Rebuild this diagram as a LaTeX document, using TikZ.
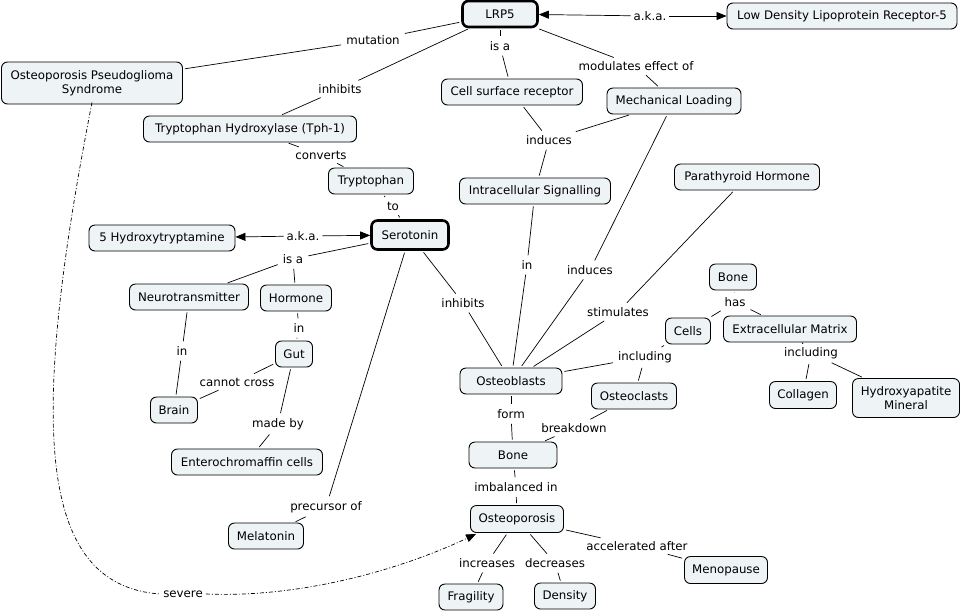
\documentclass[tikz,border=0pt]{standalone}
\usepackage{fontspec}
\setmainfont{DejaVu Sans}
\usetikzlibrary{arrows.meta}
\definecolor{nodefill}{HTML}{EEF3F5}
\tikzset{
  cbox/.style={draw=black, fill=nodefill, rounded corners=6pt, line width=0.9pt,
    minimum height=26pt, inner xsep=3pt, inner ysep=2pt, font=\fontsize{11.8}{14.5}\selectfont, align=center},
  thickbox/.style={cbox, line width=2.6pt},
  lab/.style={inner sep=3pt, font=\fontsize{11.8}{14.5}\selectfont},
  link/.style={draw=black, line width=0.7pt, shorten >=2pt, shorten <=2pt},
  arr/.style={draw=black, line width=0.7pt, -{Triangle[length=10pt,width=8pt]}},
  sev/.style={draw=black, line width=0.7pt, dash pattern=on 4pt off 2pt on 1pt off 2pt}
}
\begin{document}
\begin{tikzpicture}[x=1pt,y=-1pt]
\useasboundingbox[fill=white] (0,0) rectangle (963,614);
% concepts
\node[thickbox, minimum width=75pt] (lrp) at (500,14) {LRP5};
\node[cbox, minimum width=230pt] (ldl) at (842,16) {Low Density Lipoprotein Receptor-5};
\node[cbox, minimum width=181pt, minimum height=42pt] (ops) at (92,83) {Osteoporosis Pseudoglioma\\Syndrome};
\node[cbox, minimum width=141pt] (csr) at (512,92) {Cell surface receptor};
\node[cbox, minimum width=134pt] (mech) at (674,101) {Mechanical Loading};
\node[cbox, minimum width=213pt] (tph) at (250,129) {Tryptophan Hydroxylase (Tph-1)};
\node[cbox, minimum width=85pt] (tryp) at (371,181) {Tryptophan};
\node[cbox, minimum width=151pt] (ics) at (535,191) {Intracellular Signalling};
\node[cbox, minimum width=145pt] (pth) at (747,177) {Parathyroid Hormone};
\node[thickbox, minimum width=77pt, minimum height=29pt] (ser) at (410,235) {Serotonin};
\node[cbox, minimum width=146pt] (hyt) at (162,238) {5 Hydroxytryptamine};
\node[cbox, minimum width=119pt] (neuro) at (189,297) {Neurotransmitter};
\node[cbox, minimum width=71pt] (horm) at (296,298) {Hormone};
\node[cbox, minimum width=37pt] (gut) at (294,354) {Gut};
\node[cbox, minimum width=47pt] (brain) at (174,410) {Brain};
\node[cbox, minimum width=151pt] (entero) at (247,462) {Enterochromaffin cells};
\node[cbox, minimum width=75pt] (mela) at (266,536) {Melatonin};
\node[cbox, minimum width=102pt] (obl) at (511,381) {Osteoblasts};
\node[cbox, minimum width=47pt] (bonetop) at (733,277) {Bone};
\node[cbox, minimum width=45pt] (cells) at (688,331) {Cells};
\node[cbox, minimum width=133pt] (ecm) at (790,329) {Extracellular Matrix};
\node[cbox, minimum width=85pt] (ocl) at (634,396) {Osteoclasts};
\node[cbox, minimum width=67pt, minimum height=27pt] (coll) at (803,395) {Collagen};
\node[cbox, minimum width=107pt, minimum height=39pt] (hyd) at (906,398) {Hydroxyapatite\\Mineral};
\node[cbox, minimum width=88pt] (bone) at (513,455) {Bone};
\node[cbox, minimum width=93pt, minimum height=27pt] (osteo) at (517,519) {Osteoporosis};
\node[cbox, minimum width=83pt, minimum height=27pt] (meno) at (726,570) {Menopause};
\node[cbox, minimum width=64pt] (frag) at (471,597) {Fragility};
\node[cbox, minimum width=61pt] (dens) at (565,596) {Density};
% labels
\node[lab] (aka1) at (650,16) {a.k.a.};
\node[lab] (mut) at (373,40) {mutation};
\node[lab] (inh1) at (340,89) {inhibits};
\node[lab] (isa1) at (500,46) {is a};
\node[lab] (mod) at (636,66) {modulates effect of};
\node[lab] (conv) at (321,155) {converts};
\node[lab] (ind1) at (549,140) {induces};
\node[lab] (to) at (393,206) {to};
\node[lab] (aka2) at (303,236) {a.k.a.};
\node[lab] (isa2) at (293,259) {is a};
\node[lab] (in1) at (299,328) {in};
\node[lab] (in2) at (182,351) {in};
\node[lab] (cc) at (237,382) {cannot cross};
\node[lab] (made) at (278,424) {made by};
\node[lab] (prec) at (326,507) {precursor of};
\node[lab] (inh2) at (463,303) {inhibits};
\node[lab] (in3) at (527,265) {in};
\node[lab] (ind2) at (590,270) {induces};
\node[lab] (stim) at (618,312) {stimulates};
\node[lab] (has) at (735,302) {has};
\node[lab] (inc1) at (645,357) {including};
\node[lab] (inc2) at (811,353) {including};
\node[lab] (form) at (511,414) {form};
\node[lab] (brk) at (574,428) {breakdown};
\node[lab] (imb) at (516,487) {imbalanced in};
\node[lab] (acc) at (637,546) {accelerated after};
\node[lab] (incr) at (487,563) {increases};
\node[lab] (decr) at (555,563) {decreases};
\node[lab] (sevl) at (183,594) {severe};
% links
\draw[arr] (aka1) -- (lrp);
\draw[arr] (aka1) -- (ldl);
\draw[link] (lrp) -- (mut); \draw[link] (mut) -- (ops);
\draw[link] (lrp) -- (inh1); \draw[link] (inh1) -- (tph);
\draw[link] (lrp) -- (isa1); \draw[link] (isa1) -- (csr);
\draw[link] (lrp) -- (mod); \draw[link] (mod) -- (mech);
\draw[link] (tph) -- (conv); \draw[link] (conv) -- (tryp);
\draw[link] (csr) -- (ind1); \draw[link] (mech) -- (ind1); \draw[link] (ind1) -- (ics);
\draw[link] (tryp) -- (to); \draw[link] (to) -- (ser);
\draw[arr] (aka2) -- (ser);
\draw[arr] (aka2) -- (hyt);
\draw[link] (ser) -- (isa2); \draw[link] (isa2) -- (neuro); \draw[link] (isa2) -- (horm);
\draw[link] (horm) -- (in1); \draw[link] (in1) -- (gut);
\draw[link] (neuro) -- (in2); \draw[link] (in2) -- (brain);
\draw[link] (gut) -- (cc); \draw[link] (cc) -- (brain);
\draw[link] (gut) -- (made); \draw[link] (made) -- (entero);
\draw[link] (ser) -- (prec); \draw[link] (prec) -- (mela);
\draw[link] (ser) -- (inh2); \draw[link] (inh2) -- (obl);
\draw[link] (ics) -- (in3); \draw[link] (in3) -- (obl);
\draw[link] (mech) -- (ind2); \draw[link] (ind2) -- (obl);
\draw[link] (pth) -- (stim); \draw[link] (stim) -- (obl);
\draw[link] (bonetop) -- (has); \draw[link] (has) -- (cells); \draw[link] (has) -- (ecm);
\draw[link] (cells) -- (inc1); \draw[link] (inc1) -- (obl); \draw[link] (inc1) -- (ocl);
\draw[link] (ecm) -- (inc2); \draw[link] (inc2) -- (coll); \draw[link] (inc2) -- (hyd);
\draw[link] (obl) -- (form); \draw[link] (form) -- (bone);
\draw[link] (ocl) -- (brk); \draw[link] (brk) -- (bone);
\draw[link] (bone) -- (imb); \draw[link] (imb) -- (osteo);
\draw[link] (osteo) -- (acc); \draw[link] (acc) -- (meno);
\draw[link] (osteo) -- (incr); \draw[link] (incr) -- (frag);
\draw[link] (osteo) -- (decr); \draw[link] (decr) -- (dens);
\draw[sev] ([yshift=2pt]ops.south) .. controls (30,420) and (35,585) .. (sevl.west);
\draw[sev, -{Triangle[length=10pt,width=8pt]}] (sevl.east) .. controls (300,598) and (400,570) .. ([xshift=6pt,yshift=-1pt]osteo.south west);
\end{tikzpicture}
\end{document}
